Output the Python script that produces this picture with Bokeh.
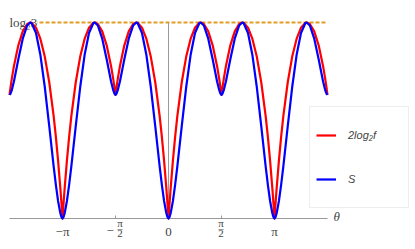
import numpy as np
from bokeh.plotting import figure
from bokeh.models import Range1d, LinearAxis, FixedTicker, Label, Legend, LegendItem
from bokeh.embed import file_html
from bokeh.resources import INLINE

# ---------------- data ----------------
LOG2_3 = float(np.log2(3))          # top of the plot and level of the dashed line
theta_min, theta_max = -1.5 * np.pi, 1.5 * np.pi

# one arch of the curves, theta in degrees from 0 to 90 (the picture repeats it mirrored)
quarter_deg = [0, 1.875, 3.75, 7.5, 11.25, 15, 22.5, 30, 37.5, 45, 52.5, 54.74,
               60, 67.5, 75, 82.5, 86.25, 88.125, 90]
S_quarter = [0.0, 0.0132, 0.0441, 0.1415, 0.2714, 0.4216, 0.7473, 1.0613, 1.3217,
             1.5000, 1.5805, 1.5850, 1.5613, 1.4544, 1.2876, 1.1074, 1.0355, 1.0110, 1.0]
f_quarter = [0.0, 0.1290, 0.2496, 0.4679, 0.6593, 0.8271, 1.1019, 1.3073, 1.4524,
             1.5431, 1.5828, 1.5850, 1.5728, 1.5128, 1.4006, 1.2320, 1.1245, 1.0645, 1.0]

tick_values = [-np.pi, -np.pi / 2, 0.0, np.pi / 2, np.pi]
tick_labels = ["\u2212\u03c0", "\u2212\u03c0/2", "0", "\u03c0/2", "\u03c0"]
series_names = ["2log\u2082f", "S"]
series_colors = ["#ff0000", "#0000ff"]


def unfold(deg, val):
    # arch 0..90 -> 0..180 (mirror) -> 0..270 -> -270..270 (even)
    half_d = list(deg) + [180 - d for d in reversed(deg[:-1])]
    half_v = list(val) + list(reversed(val[:-1]))
    pos_d = half_d + [180 + d for d in deg[1:]]
    pos_v = half_v + list(val[1:])
    full_d = [-d for d in reversed(pos_d[1:])] + pos_d
    full_v = list(reversed(pos_v[1:])) + pos_v
    return np.radians(full_d), np.array(full_v)


theta_S, S_full = unfold(quarter_deg, S_quarter)
theta_f, f_full = unfold(quarter_deg, f_quarter)

# ---------------- layout ----------------
W, H = 415, 249
PX_PER_RAD = 106 / np.pi
X0_PX = 168          # canvas x of theta = 0
Y0_PX = 218          # canvas y of value 0
PX_PER_Y = 196 / LOG2_3

p = figure(width=W, height=H,
           x_range=Range1d(-X0_PX / PX_PER_RAD, (W - X0_PX) / PX_PER_RAD),
           y_range=Range1d(-(H - Y0_PX) / PX_PER_Y, Y0_PX / PX_PER_Y),
           output_backend="svg", toolbar_location=None,
           x_axis_location=None, y_axis_location=None,
           min_border=0, outline_line_color=None,
           background_fill_color="white", border_fill_color="white")
p.grid.grid_line_color = None

AXIS_COLOR = "#999999"
SERIF = "Liberation Serif"

# axis through the origin; its tick marks are drawn as (label-less) minor ticks,
# the tick texts are placed as labels below
xaxis = LinearAxis(fixed_location=0, ticker=FixedTicker(ticks=[], minor_ticks=tick_values),
                   bounds=(theta_min, theta_max))
xaxis.axis_line_color = AXIS_COLOR
xaxis.minor_tick_line_color = AXIS_COLOR
xaxis.minor_tick_in = 3
xaxis.minor_tick_out = 0
xaxis.major_tick_in = 0
xaxis.major_tick_out = 0
xaxis.major_label_standoff = 0
p.add_layout(xaxis, "below")

yaxis = LinearAxis(fixed_location=0, bounds=(0, LOG2_3), ticker=FixedTicker(ticks=[]))
yaxis.axis_line_color = AXIS_COLOR
yaxis.major_tick_in = 0
yaxis.major_tick_out = 0
yaxis.minor_tick_in = 0
yaxis.minor_tick_out = 0
yaxis.major_label_standoff = 0
p.add_layout(yaxis, "left")

# tick labels (fractions drawn stacked)
for v, t in zip(tick_values, tick_labels):
    if "/" not in t:
        p.add_layout(Label(x=v, y=0, y_offset=-13, text=t, text_align="center",
                           text_baseline="middle", text_font=SERIF, text_font_size="13px"))
        continue
    num, den = t.replace("\u2212", "").split("/")
    neg = t.startswith("\u2212")
    dx = 4.5 if neg else -0.5
    if neg:
        p.add_layout(Label(x=v, y=0, x_offset=-5.3, y_offset=-12, text="\u2212",
                           text_align="center", text_baseline="middle",
                           text_font=SERIF, text_font_size="13px"))
    p.add_layout(Label(x=v, y=0, x_offset=dx, y_offset=-4.5, text=num,
                       text_align="center", text_baseline="middle",
                       text_font=SERIF, text_font_size="11px"))
    p.add_layout(Label(x=v, y=0, x_offset=dx, y_offset=-9.5, text="\u2013",
                       text_align="center", text_baseline="middle", text_color="#555555",
                       text_font=SERIF, text_font_size="10px"))
    p.add_layout(Label(x=v, y=0, x_offset=dx, y_offset=-15, text=den,
                       text_align="center", text_baseline="middle",
                       text_font=SERIF, text_font_size="11px"))

# dashed reference line at log2 3 with its label
ref = p.line(x=[theta_min, theta_max], y=[LOG2_3, LOG2_3], line_color="#E19C24",
             line_width=2, line_dash="4 2")
ref.level = "underlay"
lab = Label(x=theta_min, y=LOG2_3, text="log\u20823", text_align="left", text_baseline="middle",
            text_font=SERIF, text_font_size="13px", background_fill_color="white")
lab.level = "glyph"
p.add_layout(lab)

p.add_layout(Label(x=theta_max, y=0, x_offset=6, y_offset=2, text="\u03b8",
                   text_align="left", text_baseline="middle", text_font=SERIF,
                   text_font_style="italic", text_font_size="13px"))

# curves
r_f = p.line(theta_f, f_full, line_color=series_colors[0], line_width=2.2, line_join="round")
r_S = p.line(theta_S, S_full, line_color=series_colors[1], line_width=2.2, line_join="round")
r_f.level = "overlay"
r_S.level = "overlay"

legend = Legend(items=[LegendItem(label=series_names[0], renderers=[r_f]),
                       LegendItem(label=series_names[1], renderers=[r_S])],
                location=(309, 41), orientation="vertical", padding=6, spacing=0, margin=0,
                glyph_width=20, glyph_height=44, label_standoff=12, label_width=54,
                label_height=20, label_text_font="Liberation Sans",
                label_text_font_style="italic", label_text_font_size="11px",
                border_line_color="#dcdcdc", border_line_width=1,
                background_fill_color="white", background_fill_alpha=1.0)
p.add_layout(legend)

open("out.html", "w").write(file_html(p, INLINE))
